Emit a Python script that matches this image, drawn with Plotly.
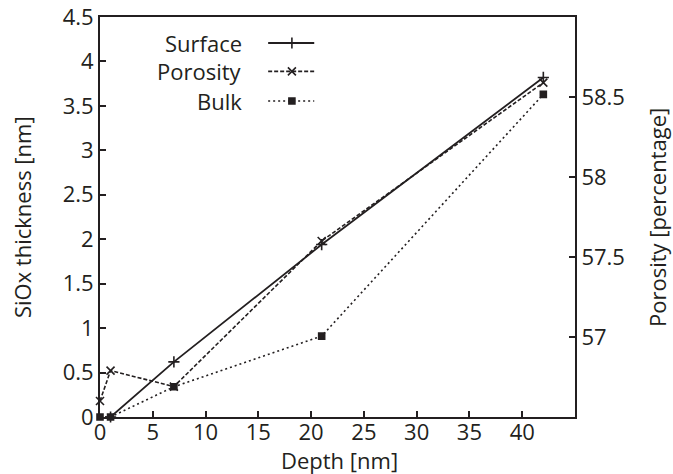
import plotly.graph_objects as go

# ---- data ----
depth_surface = [1, 7, 21, 42]
surface_thickness = [0.0, 0.62, 1.94, 3.82]

depth_porosity = [0, 1, 7, 21, 42]
porosity_pct = [56.60, 56.79, 56.69, 57.60, 58.59]

depth_bulk = [0, 1, 7, 21, 42]
bulk_thickness = [0.0, 0.0, 0.34, 0.91, 3.63]

series_names = ["Surface", "Porosity", "Bulk"]
x_ticks = [0, 5, 10, 15, 20, 25, 30, 35, 40]
y2_ticks = [57, 57.5, 58, 58.5]

# ---- style ----
INK = "#231f20"
FONT = "Open Sans"
FS = 22
dashes = {"Surface": "solid", "Porosity": "4px,2px", "Bulk": "2px,3px"}
symbols = {"Surface": "cross-thin", "Porosity": "x-thin", "Bulk": "square"}
msize = {"Surface": 8, "Porosity": 8, "Bulk": 6}
lwidth = {"Surface": 1.8, "Porosity": 1.6, "Bulk": 1.6}

def mk(name):
    return dict(symbol=symbols[name], size=msize[name], color=INK,
                line=dict(color=INK, width=1.6))

fig = go.Figure()
fig.add_trace(go.Scatter(x=depth_surface, y=surface_thickness, name="Surface",
                         mode="lines+markers", cliponaxis=False,
                         line=dict(color=INK, width=lwidth["Surface"], dash=dashes["Surface"]),
                         marker=mk("Surface"), showlegend=False))
fig.add_trace(go.Scatter(x=depth_porosity, y=porosity_pct, name="Porosity", yaxis="y2",
                         mode="lines+markers", cliponaxis=False,
                         line=dict(color=INK, width=lwidth["Porosity"], dash=dashes["Porosity"]),
                         marker=mk("Porosity"), showlegend=False))
fig.add_trace(go.Scatter(x=depth_bulk, y=bulk_thickness, name="Bulk",
                         mode="lines+markers", cliponaxis=False,
                         line=dict(color=INK, width=lwidth["Bulk"], dash=dashes["Bulk"]),
                         marker=mk("Bulk"), showlegend=False))

# ---- manual legend (text left, sample right) on a hidden unit axis ----
leg_text_x = 0.304
leg_y = [0.935, 0.864, 0.790]
leg_line_x = [0.354, 0.451]
leg_mark_x = 0.404
for name, ly in zip(series_names, leg_y):
    fig.add_annotation(x=leg_text_x, y=ly, xref="paper", yref="paper",
                       text=name, showarrow=False, xanchor="right", yanchor="middle",
                       font=dict(family=FONT, size=FS, color=INK))
    fig.add_trace(go.Scatter(x=leg_line_x, y=[ly, ly], xaxis="x3", yaxis="y3",
                             mode="lines", hoverinfo="skip", showlegend=False,
                             line=dict(color=INK, width=lwidth[name], dash=dashes[name])))
    fig.add_trace(go.Scatter(x=[leg_mark_x], y=[ly], xaxis="x3", yaxis="y3",
                             mode="markers", hoverinfo="skip", showlegend=False,
                             marker=mk(name)))

# ---- axis titles as annotations ----
title_font = dict(family=FONT, size=FS, color=INK)
fig.add_annotation(x=0.505, y=-0.108, xref="paper", yref="paper", text="Depth [nm]",
                   showarrow=False, xanchor="center", yanchor="middle", font=title_font)
fig.add_annotation(x=-0.164, y=0.5, xref="paper", yref="paper", text="SiOx thickness [nm]",
                   showarrow=False, textangle=-90, xanchor="center", yanchor="middle",
                   font=title_font)
fig.add_annotation(x=1.1726, y=0.5, xref="paper", yref="paper", text="Porosity [percentage]",
                   showarrow=False, textangle=-90, xanchor="center", yanchor="middle",
                   font=title_font)

axis_common = dict(showline=True, linecolor=INK, linewidth=2, ticks="inside",
                   ticklen=6, tickwidth=1.5, tickcolor=INK, showgrid=False,
                   zeroline=False, automargin=False,
                   tickfont=dict(family=FONT, size=FS, color=INK))

fig.update_layout(
    width=673, height=474,
    margin=dict(l=100, r=98, t=17, b=57),
    paper_bgcolor="white", plot_bgcolor="white",
    font=dict(family=FONT, size=FS, color=INK),
    xaxis=dict(range=[0, 45], tickvals=x_ticks, mirror=True, ticklabelstandoff=-5,
               **axis_common),
    yaxis=dict(range=[0, 4.5], dtick=0.5, tick0=0, mirror=False, **axis_common),
    yaxis2=dict(range=[56.5, 59], tickvals=y2_ticks, overlaying="y", side="right",
                **axis_common),
    xaxis3=dict(range=[0, 1], overlaying="x", visible=False),
    yaxis3=dict(range=[0, 1], overlaying="y", visible=False),
)

fig.write_html("out.html", config={"displayModeBar": False},
               post_script="document.body.style.margin='0';document.body.style.overflow='hidden';")
